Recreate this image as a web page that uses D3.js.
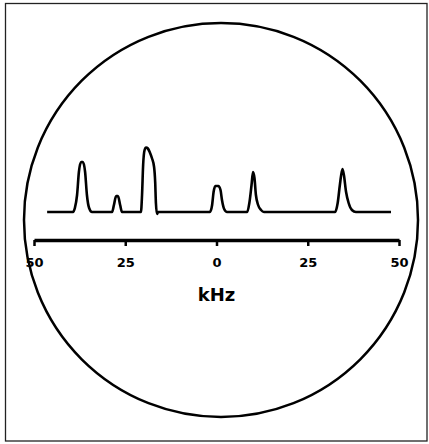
<!DOCTYPE html>
<html>
<head>
<meta charset="utf-8">
<script src="https://cdn.jsdelivr.net/npm/d3@7"></script>
<style>
  body { margin: 0; background: #fff; }
  svg { display: block; }
  .tick-label { font-family: "DejaVu Sans", sans-serif; font-weight: bold; font-size: 13px; }
  .unit { font-family: "DejaVu Sans", sans-serif; font-weight: bold; font-size: 18px; }
</style>
</head>
<body>
<svg width="429" height="444"></svg>
<script>
// spectrum trace: frequency (kHz) and intensity (arb. units)
let traceKHz = [-46.4, -39.3, -38.8, -38.2, -37.7, -37.1, -36.6, -36.0, -35.5, -34.9, -34.1,
  -28.6, -28.1, -27.5, -27.0, -26.4, -25.9,
  -20.7, -20.4, -20.1, -19.7, -19.3, -18.8, -18.2, -17.7, -17.1, -16.8, -16.6, -16.3, -16.0,
  -1.8, -1.2, -0.8, -0.3, 0.5, 1.1, 1.5, 2.1, 2.9,
  8.4, 9.0, 9.6, 10.0, 10.4, 10.8, 11.4, 12.2, 13.0,
  32.5, 33.2, 33.8, 34.5, 34.9, 35.5, 36.2, 37.1, 38.2, 47.8];
let traceInt = [0, 0, 4, 17, 40, 50, 50, 40, 17, 4, 0,
  0, 7, 16, 16, 7, 0,
  0, 17, 47, 62, 64.5, 63.5, 59, 54, 45, 30, 9, -2, 0,
  0, 7, 20, 26, 26, 22, 12, 3, 0,
  0, 9, 27, 40, 34, 17, 7, 2, 0,
  0, 9, 27, 43, 37, 20, 9, 2, 0, 0];

let tickValues = [-50, -25, 0, 25, 50];
let tickLabels = ["50", "25", "0", "25", "50"];
let unitLabel = "kHz";

let svg = d3.select("svg");

// outer frame
svg.append("rect")
    .attr("x", 5.5).attr("y", 3.5)
    .attr("width", 421.5).attr("height", 437.5)
    .attr("fill", "none")
    .attr("stroke", "#222")
    .attr("stroke-width", 1.3);

// round screen
svg.append("circle")
    .attr("cx", 221).attr("cy", 220).attr("r", 197)
    .attr("fill", "none")
    .attr("stroke", "#000")
    .attr("stroke-width", 2.5);

let x = d3.scaleLinear().domain([-50, 50]).range([34, 399]);
let y = d3.scaleLinear().domain([0, 65]).range([212, 147]);

let data = traceKHz.map(function(k, i) { return [k, traceInt[i]]; });

let line = d3.line()
    .x(function(d) { return x(d[0]); })
    .y(function(d) { return y(d[1]); })
    .curve(d3.curveMonotoneX);

svg.append("path")
    .datum(data)
    .attr("d", line)
    .attr("fill", "none")
    .attr("stroke", "#000")
    .attr("stroke-width", 2.6)
    .attr("stroke-linejoin", "round");

// frequency axis
let axis = d3.axisBottom(x)
    .tickValues(tickValues)
    .tickSize(6)
    .tickSizeOuter(0)
    .tickFormat(function(d, i) { return tickLabels[i]; });

let g = svg.append("g")
    .attr("transform", "translate(0,240)")
    .call(axis);

g.select(".domain").attr("stroke", "#000").attr("stroke-width", 3.5);
g.selectAll(".tick line").attr("stroke", "#000").attr("stroke-width", 2.5);
g.selectAll(".tick text")
    .attr("class", "tick-label")
    .attr("fill", "#000")
    .attr("y", 18)
    .attr("dy", "0.71em");

svg.append("text")
    .attr("class", "unit")
    .attr("x", x(0))
    .attr("y", 301)
    .attr("text-anchor", "middle")
    .attr("fill", "#000")
    .text(unitLabel);
</script>
</body>
</html>
